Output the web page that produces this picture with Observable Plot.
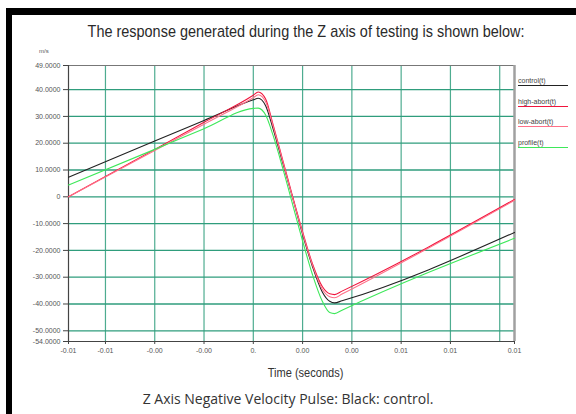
<!DOCTYPE html>
<html><head><meta charset="utf-8">
<script src="https://cdn.jsdelivr.net/npm/d3@7"></script>
<script src="https://cdn.jsdelivr.net/npm/@observablehq/plot@0.6"></script>
<style>
body{margin:0;background:#fff;}
#wrap{position:relative;width:576px;height:414px;overflow:hidden;background:#fff;}
#wrap svg{position:absolute;left:0;top:0;}
.bar{position:absolute;background:#000;}
.ctr{position:absolute;left:0;text-align:center;white-space:nowrap;}
.ctr span{display:inline-block;transform-origin:50% 50%;}
#title{width:612px;top:22px;font-family:"Liberation Sans",Arial,sans-serif;font-size:17px;color:#2a2a2a;}
#title span{transform:scaleX(0.85);}
#xlab{width:612px;top:365px;font-family:"Liberation Sans",Arial,sans-serif;font-size:13px;color:#333;}
#xlab span{transform:scaleX(0.85);}
#cap{width:576px;top:389px;font-family:"Open Sans",sans-serif;font-size:14px;color:#333;}
#unit{position:absolute;left:39px;top:48px;font-family:"Liberation Sans",Arial,sans-serif;font-size:6px;color:#555;}
.leg{position:absolute;left:518px;font-family:"Liberation Sans",Arial,sans-serif;font-size:7px;color:#444;width:50px;padding-bottom:1px;}
</style></head><body>
<div id="wrap"></div>
<script>
// ---- data ----
const seriesNames = ["control(t)", "high-abort(t)", "low-abort(t)", "profile(t)"];
const seriesColors = ["#222222", "#f0143c", "#ff7088", "#3ee85a"];
const time = [-0.0075, -0.004, -0.002, 0, 0.0002, 0.0005, 0.0008, 0.0012, 0.0016, 0.002, 0.0024, 0.0028, 0.0031, 0.0033, 0.0036, 0.0106];
const control   = [7.3, 20.8, 28.5, 36.2, 36.8, 34.0, 25.5, 12.5, -0.5, -14.0, -26.0, -35.5, -39.0, -39.6, -38.8, -13.3];
const highAbort = [0.0, 17.7, 27.8, 37.9, 39.1, 36.5, 27.0, 13.5, 0.0, -13.0, -25.0, -33.5, -36.2, -36.5, -35.2, -1.0];
const lowAbort  = [0.0, 17.3, 27.1, 37.0, 38.1, 35.5, 26.5, 13.0, -0.5, -13.5, -25.5, -34.5, -37.3, -37.7, -36.3, -1.3];
const profile   = [4.4, 17.7, 25.4, 33.0, 33.1, 30.5, 23.0, 10.5, -3.0, -16.5, -29.0, -39.0, -43.2, -43.6, -42.3, -15.5];
const yTicks = [49, 40, 30, 20, 10, 0, -10, -20, -30, -40, -50, -54];
const yGrid = [40, 30, 20, 10, 0, -10, -20, -30, -40, -50];
const xTicks = [-0.0075, -0.006, -0.004, -0.002, 0, 0.002, 0.004, 0.006, 0.008, 0.0106];
const xTickLabels = ["-0.01", "-0.01", "-0.00", "-0.00", "0.", "0.00", "0.00", "0.01", "0.01", "0.01"];
const xGrid = [-0.006, -0.004, -0.002, 0, 0.002, 0.004, 0.006, 0.008, 0.010];
const xDomain = [-0.0075, 0.0106];
const yDomain = [-54, 49];

const allValues = [control, highAbort, lowAbort, profile];
const rows = [];
allValues.forEach((vals, s) => vals.forEach((v, i) => rows.push({series: seriesNames[s], t: time[i], v})));

const gridColor = "#2f9d7c";
const chart = Plot.plot({
  width: 576, height: 414,
  marginLeft: 68, marginRight: 62, marginTop: 65, marginBottom: 73,
  style: {fontFamily: "'Liberation Sans', Arial, sans-serif", background: "transparent", overflow: "visible"},
  x: {domain: xDomain, axis: null},
  y: {domain: yDomain, axis: null},
  color: {domain: seriesNames, range: seriesColors},
  marks: [
    Plot.gridY(yGrid, {stroke: gridColor, strokeOpacity: 1, strokeWidth: 1.3}),
    Plot.gridX(xGrid, {stroke: gridColor, strokeOpacity: 0.85, strokeWidth: 1.2}),
    Plot.ruleY([49], {stroke: "#777", strokeWidth: 1}),
    Plot.ruleX([xDomain[1]], {stroke: "#a0a0a0", strokeWidth: 2.5}),
    Plot.axisY(yTicks, {tickSize: 5, tickPadding: 3, fontSize: 7, fill: "#555", stroke: "#444", label: null,
      tickFormat: d => d === 0 ? "0" : d.toFixed(4)}),
    Plot.axisX(xTicks, {tickSize: 3, tickPadding: 4, fontSize: 7, fill: "#555", stroke: "#444", label: null,
      tickFormat: d => xTickLabels[xTicks.indexOf(d)]}),
    Plot.ruleX([xDomain[0]], {stroke: "#444", strokeWidth: 1.2}),
    Plot.ruleY([yDomain[0]], {stroke: "#444", strokeWidth: 1.2}),
    Plot.line(rows, {x: "t", y: "v", z: "series", stroke: "series", strokeWidth: 1.1, curve: "monotone-x"})
  ]
});
const wrap = document.getElementById("wrap");
wrap.appendChild(chart);

function add(html) { wrap.insertAdjacentHTML("beforeend", html); }
add('<div class="bar" style="left:6px;top:8px;width:570px;height:7px"></div>');
add('<div class="bar" style="left:6px;top:8px;width:6px;height:406px"></div>');
add('<div id="title" class="ctr"><span>The response generated during the Z axis of testing is shown below:</span></div>');
add('<div id="unit">m/s</div>');
add('<div id="xlab" class="ctr"><span>Time (seconds)</span></div>');
add('<div id="cap" class="ctr"><span>Z Axis Negative Velocity Pulse: Black: control.</span></div>');
const legTops = [77, 98, 118, 139];
seriesNames.forEach((n, i) => {
  add(`<div class="leg" style="top:${legTops[i]}px;border-bottom:1px solid ${seriesColors[i]}">${n}</div>`);
});
</script>
</body></html>
